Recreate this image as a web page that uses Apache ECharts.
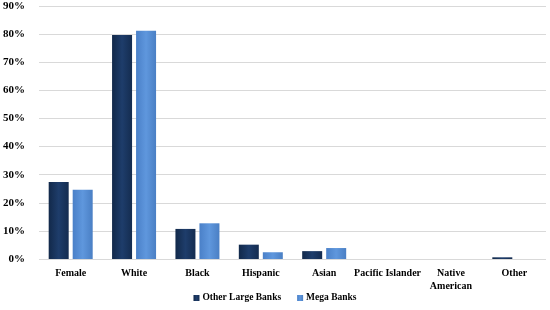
<!DOCTYPE html>
<html><head><meta charset="utf-8">
<script src="https://cdn.jsdelivr.net/npm/echarts@6/dist/echarts.min.js"></script>
<style>html,body{margin:0;padding:0;background:#fff}#c{width:550px;height:310px}</style>
</head><body><div id="c"></div>
<script>
const categories = ['Female', 'White', 'Black', 'Hispanic', 'Asian', 'Pacific Islander', 'Native\nAmerican', 'Other'];
const otherLargeBanks = [27.4, 79.7, 10.7, 5.1, 2.8, 0, 0, 0.6];
const megaBanks = [24.6, 81.2, 12.7, 2.4, 3.9, 0, 0, 0];
const seriesNames = ['Other Large Banks', 'Mega Banks'];

const font = '"Liberation Serif", "Times New Roman", serif';
function grad(c1, c2, c3) {
  return new echarts.graphic.LinearGradient(0, 0, 1, 0, [
    {offset: 0, color: c1}, {offset: 0.5, color: c2}, {offset: 1, color: c3}
  ]);
}
const chart = echarts.init(document.getElementById('c'));
chart.setOption({
  animation: false,
  grid: {left: 38, right: 4, top: 6, bottom: 51},
  legend: {
    bottom: 2, left: 'center', itemWidth: 6, itemHeight: 6, itemGap: 16,
    icon: 'rect',
    textStyle: {fontFamily: font, fontWeight: 'bold', fontSize: 9.5, color: '#000', padding: [0, 0, 0, -2]},
    data: seriesNames
  },
  xAxis: {
    type: 'category', data: categories,
    axisLine: {show: false}, axisTick: {show: false},
    axisLabel: {fontFamily: font, fontWeight: 'bold', fontSize: 10, color: '#000', margin: 8, interval: 0, lineHeight: 13}
  },
  yAxis: {
    type: 'value', min: 0, max: 90, interval: 10,
    axisLabel: {formatter: '{value}%', fontFamily: font, fontWeight: 'bold', fontSize: 11, color: '#000', margin: 14},
    splitLine: {lineStyle: {color: '#d9d9d9', width: 1}},
    axisLine: {show: false}, axisTick: {show: false}
  },
  series: [
    {name: seriesNames[0], type: 'bar', data: otherLargeBanks, barWidth: 20, barGap: '20%',
     itemStyle: {color: grad('#12294a', '#1e3d6b', '#142c50')}},
    {name: seriesNames[1], type: 'bar', data: megaBanks, barWidth: 20,
     itemStyle: {color: grad('#4a80c8', '#5f97dd', '#4a7fc4')}}
  ]
});
</script></body></html>
